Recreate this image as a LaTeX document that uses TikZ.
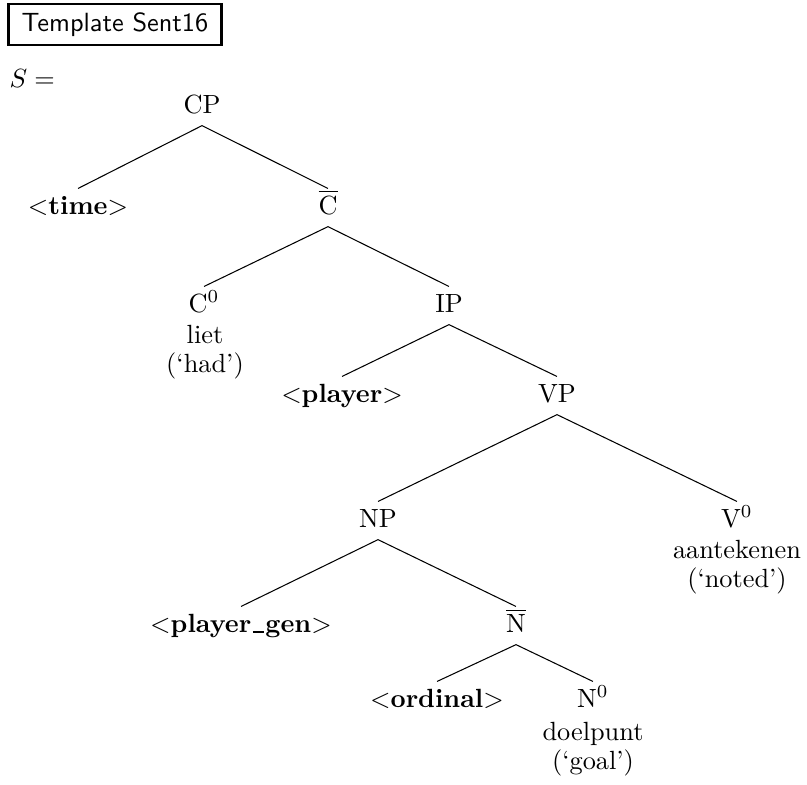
\documentclass[tikz,border=0pt]{standalone}
\newcommand{\uscore}{\kern.06em\rule[-0.2pt]{0.42em}{0.5pt}\kern.06em}
\begin{document}
\begin{tikzpicture}[x=0.38pt,y=0.38pt,yscale=-1,xscale=1,
  cat/.style={anchor=base,inner sep=0pt,text height=9.5pt,text depth=4.6pt},
  word/.style={anchor=base,inner sep=0pt},
  branch/.style={line width=0.4pt}]
\useasboundingbox (0,0) rectangle (807,785);

% Text Node
\draw (115,24.5) node [draw,line width=1pt,inner xsep=5pt,inner ysep=3.2pt,font=\sffamily] (title) {Template Sent16};
% Text Node
\draw (9,87) node [word,anchor=base west] (seq) {$S =$};

% Text Node
\draw (202,113) node [cat] (cp) {CP};
\draw (78,214) node [cat] (time) {$<$\textbf{time}$>$};
\draw (328,214) node [cat] (cbar) {$\overline{\mbox{C}}$};
\draw (204,312) node [cat] (c0) {C$^0$};
\draw (205,343) node [word] (liet) {liet};
\draw (205,372) node [word] (had) {(`had')};
\draw (449,312) node [cat] (ip) {IP};
\draw (342,402) node [cat] (player) {$<$\textbf{player}$>$};
\draw (557,402) node [cat] (vp) {VP};
\draw (378,527) node [cat] (np) {NP};
\draw (737,527) node [cat] (v0) {V$^0$};
\draw (737,558) node [word] (aant) {aantekenen};
\draw (737,587) node [word] (noted) {(`noted')};
\draw (241,632) node [cat] (pgen) {$<$\textbf{player\uscore gen}$>$};
\draw (516,632) node [cat] (nbar) {$\overline{\mbox{N}}$};
\draw (437,707) node [cat] (ord) {$<$\textbf{ordinal}$>$};
\draw (593,707) node [cat] (n0) {N$^0$};
\draw (593,740) node [word] (doel) {doelpunt};
\draw (593,769) node [word] (goal) {(`goal')};

%Straight Lines
\draw [branch] (time.north) -- (cp.south) -- (cbar.north) ;
\draw [branch] (c0.north) -- (cbar.south) -- (ip.north) ;
\draw [branch] (player.north) -- (ip.south) -- (vp.north) ;
\draw [branch] (np.north) -- (vp.south) -- (v0.north) ;
\draw [branch] (pgen.north) -- (np.south) -- (nbar.north) ;
\draw [branch] (ord.north) -- (nbar.south) -- (n0.north) ;

\end{tikzpicture}
\end{document}
